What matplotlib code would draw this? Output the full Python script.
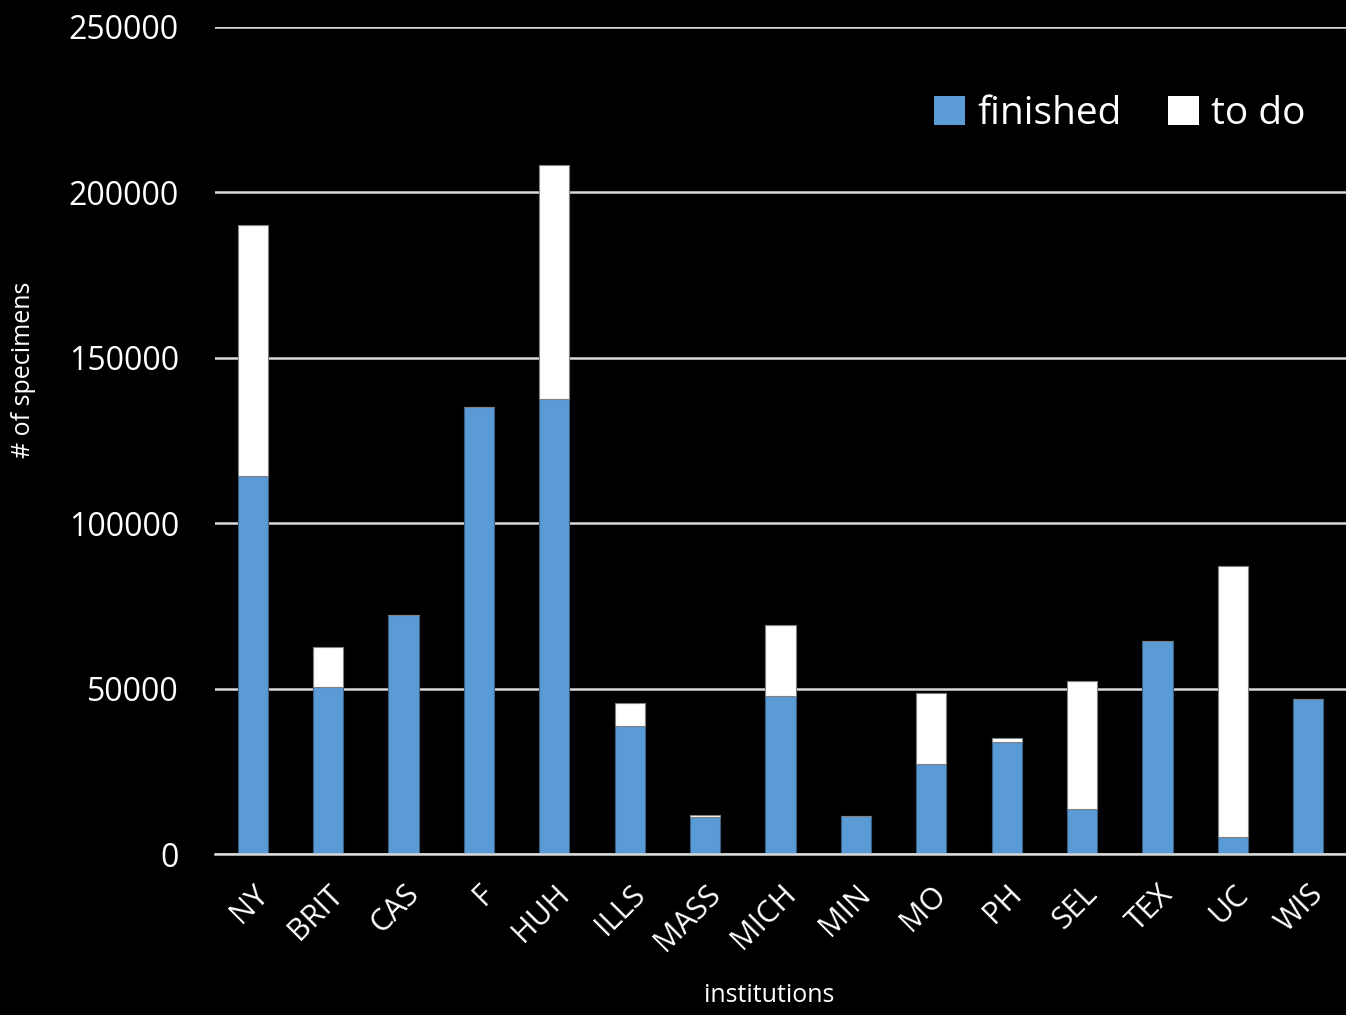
import matplotlib.pyplot as plt
import numpy as np

plt.rcParams['font.family'] = ['Open Sans', 'DejaVu Sans']

# data
institutions = ['NY', 'BRIT', 'CAS', 'F', 'HUH', 'ILLS', 'MASS', 'MICH',
                'MIN', 'MO', 'PH', 'SEL', 'TEX', 'UC', 'WIS']
finished = [114300, 50500, 72300, 135100, 137500, 38700, 11200, 47800,
            11500, 27200, 33900, 13600, 64400, 5100, 46900]
total = [190100, 62600, 72300, 135100, 208300, 45700, 11800, 69200,
         11500, 48700, 35100, 52300, 64400, 87100, 46900]
to_do = [t - f for t, f in zip(total, finished)]
yticks = [0, 50000, 100000, 150000, 200000, 250000]

# colors
bg_color = '#000000'
blue = '#5b9bd5'
grid_color = '#d9d9d9'
text_color = '#ffffff'

fig = plt.figure(figsize=(13.46, 10.15), dpi=100)
fig.set_facecolor(bg_color)
ax = fig.add_axes([0.1597, 0.1586, 0.8403, 0.8148])
ax.set_facecolor(bg_color)

x = np.arange(len(institutions))
ax.bar(x, finished, width=0.4, color=blue, edgecolor='#3a5f85',
       linewidth=0.8, label='finished', zorder=3)
ax.bar(x, to_do, width=0.4, bottom=finished, color='white',
       edgecolor='#808080', linewidth=0.8, label='to do', zorder=3)

ax.set_xlim(-0.5, len(institutions) - 0.5)
ax.set_ylim(0, 250000)
ax.set_yticks(yticks)
ax.set_yticklabels([str(v) for v in yticks], fontsize=23, color=text_color)
ax.yaxis.grid(True, color=grid_color, linewidth=1.8, zorder=0)
ax.set_axisbelow(True)
ax.tick_params(axis='y', length=0, pad=26)
ax.tick_params(axis='x', length=0, pad=18)

ax.set_xticks(x)
ax.set_xticklabels(institutions, rotation=45, ha='right',
                   rotation_mode='anchor', fontsize=22, color=text_color)

for side in ['top', 'right', 'left']:
    ax.spines[side].set_visible(False)
ax.spines['bottom'].set_color(grid_color)
ax.spines['bottom'].set_linewidth(1.8)
ax.spines['bottom'].set_zorder(4)

ax.set_xlabel('institutions', fontsize=18, color=text_color)
ax.xaxis.set_label_coords(0.49, -0.156)
ax.set_ylabel('# of specimens', fontsize=18, color=text_color)
ax.yaxis.set_label_coords(-0.158, 0.585)

leg = ax.legend(loc='upper right', bbox_to_anchor=(0.995, 0.96), ncol=2,
                frameon=False, fontsize=28, handlelength=0.8,
                handleheight=0.8, handletextpad=0.3, columnspacing=1.2)
for t in leg.get_texts():
    t.set_color(text_color)
for h in leg.legend_handles:
    h.set_edgecolor('none')

fig.savefig('out.png', dpi=100, facecolor=bg_color)
